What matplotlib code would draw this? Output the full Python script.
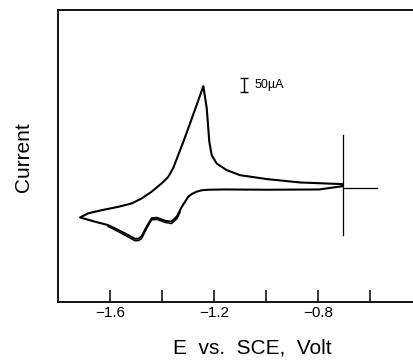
import matplotlib.pyplot as plt

plt.rcParams['font.family'] = ['Liberation Sans', 'DejaVu Sans']

# Cyclic voltammogram (E in V vs SCE, current in uA)
# cathodic scan, from the switching potential toward negative E
e_fwd = [-0.704, -0.796, -0.996, -1.158, -1.222, -1.248, -1.267, -1.285, -1.299,
         -1.324, -1.343, -1.363, -1.388, -1.420, -1.440, -1.459, -1.478, -1.490,
         -1.505, -1.530, -1.568, -1.608, -1.658, -1.715]
i_fwd = [7, -5, -6, -5, -6, -8, -13, -21, -31,
         -67, -102, -120, -117, -106, -108, -138, -172, -181,
         -181, -168, -150, -132, -120, -105]
# second cycle, cathodic part where it separates from the first
e_fwd2 = [-1.330, -1.343, -1.363, -1.388, -1.420, -1.440, -1.459, -1.478,
          -1.490, -1.505, -1.530, -1.568, -1.608]
i_fwd2 = [-86, -110, -127, -123, -112, -114, -145, -180,
          -188, -188, -175, -156, -137]
# return scan, back toward the switching potential
e_rev = [-1.715, -1.683, -1.632, -1.568, -1.517, -1.478, -1.440, -1.401, -1.376,
         -1.357, -1.318, -1.292, -1.267, -1.241, -1.228, -1.218, -1.209, -1.190,
         -1.151, -1.100, -0.996, -0.869, -0.704]
i_rev = [-105, -90, -79, -67, -55, -37, -13, 17, 40,
         71, 165, 231, 296, 364, 285, 165, 118, 88,
         64, 46, 32, 20, 14]

e_switch = -0.704
scale_ua = 50

fig = plt.figure(figsize=(4.14, 3.61), dpi=100)
ax = fig.add_axes([0.140, 0.1634, 0.860, 0.8089])

ax.plot(e_fwd + e_rev, i_fwd + i_rev, color='black', lw=1.5,
        solid_joinstyle='round', solid_capstyle='round')
ax.plot(e_fwd2, i_fwd2, color='black', lw=1.0, solid_joinstyle='round')

# crosshair at the switching potential
ax.plot([e_switch, e_switch], [-168, 189], color='black', lw=0.9)
ax.plot([e_switch, -0.573], [0, 0], color='black', lw=0.9)

# 50 uA scale bar
ax.errorbar([-1.085], [368], yerr=[[scale_ua / 2], [scale_ua / 2]], color='black',
            lw=1.0, capsize=3, capthick=1.0)
ax.text(-1.045, 368, '50\u00b5A', fontsize=9, va='center', ha='left')

ax.set_xlim(-1.8, -0.431)
ax.set_ylim(-407, 636)
ax.set_xticks([-1.6, -1.4, -1.2, -1.0, -0.8, -0.6])
ax.set_xticklabels(['\u22121.6', '', '\u22121.2', '', '\u22120.8', ''])
ax.set_yticks([])
ax.tick_params(axis='x', direction='in', length=9, width=1.1, labelsize=11, pad=3)
ax.spines['right'].set_visible(False)
for s in ['left', 'top', 'bottom']:
    ax.spines[s].set_linewidth(1.3)

fig.text(252 / 414, 1 - 348 / 361, 'E  vs.  SCE,  Volt', fontsize=15,
         ha='center', va='center')
fig.text(24 / 414, 1 - 157 / 361, 'Current', fontsize=15, rotation=90,
         ha='center', va='center')

fig.savefig('out.png', dpi=100)
